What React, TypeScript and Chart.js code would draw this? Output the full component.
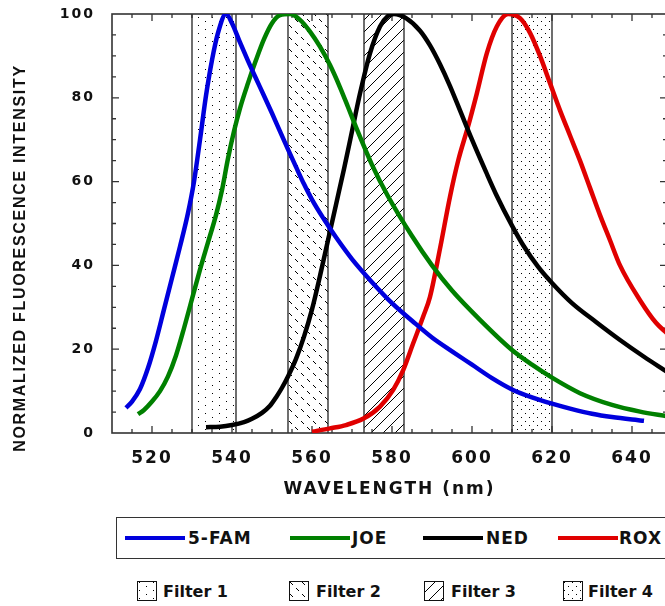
import React, { useEffect, useRef } from "react";
import { Chart, registerables } from "chart.js";
Chart.register(...registerables);

// ---------- data ----------
const FAM_NM = [513.5, 515, 517, 519, 521, 523, 525, 527, 529, 530.5, 532, 533.5, 535, 536.5, 538.5, 540, 542, 544, 546, 548, 550, 552, 554, 556, 558, 560, 563, 566, 570, 575, 580, 585, 590, 595, 600, 605, 610, 615, 620, 625, 630, 635, 640, 643];
const FAM_VAL = [6, 7.5, 10.5, 15.5, 22, 29.5, 37, 44.5, 52.5, 60, 70, 80.5, 89, 95.5, 100, 97.8, 93.2, 88.8, 84.6, 80.5, 76.3, 72, 67.7, 63.5, 59.4, 55.7, 51, 46.7, 41.5, 36, 31, 26.8, 22.8, 19.5, 16.3, 13.1, 10.4, 8.5, 7, 5.7, 4.6, 3.8, 3.2, 2.9];

const JOE_NM = [516.5, 518, 520, 522, 524, 526, 528, 530, 532, 534, 536, 537.5, 539, 540.5, 542, 544, 546, 548, 550, 552, 554.5, 557, 559.5, 562, 564.5, 567, 569, 571, 575, 579, 585, 590, 595, 602, 610, 615, 620, 627, 635, 642, 648.75];
const JOE_VAL = [4.5, 5.5, 7.5, 10, 13.5, 18.5, 25, 32, 39, 45.5, 52, 58, 65.5, 72, 77.5, 83.5, 89, 94, 97.8, 99.7, 100, 98.6, 95.8, 92.2, 87.8, 82.5, 77.8, 73, 64, 56.5, 47, 40, 34, 27, 19.8, 16.3, 13.2, 9.5, 6.7, 5.1, 4];

const NED_NM = [533.5, 537, 540, 543, 545, 547.5, 549.5, 551, 552.5, 554, 556, 558, 560, 562, 564, 566, 568, 570, 572, 574.5, 577, 579, 580.5, 583.5, 587, 589.5, 592, 594.5, 597, 600, 603.5, 606, 610, 613, 616.5, 620, 625, 631, 637, 643, 648.75];
const NED_VAL = [1.4, 1.5, 1.9, 2.6, 3.4, 4.8, 6.5, 8.5, 10.8, 13.5, 17.7, 23, 29.5, 37.5, 46, 54.5, 63, 72, 81, 90.6, 97, 99.5, 100, 99, 96, 92.5, 88, 82.8, 77, 70, 62.3, 57, 49.5, 44.5, 39.7, 35.8, 31, 26.5, 22.2, 18.2, 14.6];

const ROX_NM = [560, 564.5, 568.5, 573, 577, 580.3, 582.8, 585.3, 587.8, 589.5, 592, 594.5, 596.6, 599, 601.2, 603.7, 606.2, 609, 612, 614.5, 617, 619.5, 622, 624.5, 627, 629.5, 632, 634.5, 637, 642, 646, 648.75];
const ROX_VAL = [0.3, 1.1, 1.9, 3.5, 6.3, 10.3, 15, 21.4, 27.8, 32.5, 44, 56.4, 65.2, 73.1, 81, 90.6, 97, 100, 99, 95.5, 90, 83.5, 77, 71, 65, 58.5, 52, 46, 40, 31.7, 26.3, 23.8];

const SERIES_NAMES = ["5-FAM", "JOE", "NED", "ROX"];
const SERIES_COLORS = ["#0000dd", "#008000", "#000000", "#e00000"];

const FILTER_NAMES = ["Filter 1", "Filter 2", "Filter 3", "Filter 4"];
const FILTER_START = [530, 554, 573, 610];
const FILTER_END = [541, 564, 583, 620];
const FILTER_KINDS = ["dots", "dashes", "hatch", "dense"];

const X_TICKS = [520, 540, 560, 580, 600, 620, 640];
const Y_TICKS = [0, 20, 40, 60, 80, 100];
const X_MIN = 510;
const X_MAX = 648.75;
const X_MINOR_STEP = 5;
const Y_MINOR_STEP = 5;

const X_TITLE = "WAVELENGTH (nm)";
const Y_TITLE = "NORMALIZED FLUORESCENCE INTENSITY";

// ---------- patterns ----------
function makeTile(kind: string): HTMLCanvasElement {
  const c = document.createElement("canvas");
  if (kind === "dots") {
    c.width = 14; c.height = 8;
    const ctx = c.getContext("2d")!;
    ctx.fillStyle = "#000";
    ctx.fillRect(2, 1, 1, 1);
    ctx.fillRect(9, 5, 1, 1);
  } else if (kind === "dashes") {
    c.width = 12; c.height = 12;
    const ctx = c.getContext("2d")!;
    ctx.fillStyle = "#000";
    for (let i = 0; i < 3; i++) {
      ctx.fillRect(1 + i, 1 + i, 1, 1);
      ctx.fillRect(7 + i, 7 + i, 1, 1);
    }
  } else if (kind === "hatch") {
    c.width = 12; c.height = 12;
    const ctx = c.getContext("2d")!;
    ctx.fillStyle = "#000";
    for (let i = 0; i < 12; i++) ctx.fillRect(i, 11 - i, 1, 1);
  } else {
    c.width = 8; c.height = 8;
    const ctx = c.getContext("2d")!;
    ctx.fillStyle = "#000";
    ctx.fillRect(1, 1, 1, 1);
    ctx.fillRect(5, 5, 1, 1);
  }
  return c;
}

function mk(nm: number[], val: number[]) {
  return nm.map((x, i) => ({ x, y: val[i] }));
}

const framePlugin = {
  id: "frameAndFilters",
  beforeDraw(chart: any) {
    (chart.ctx as any).letterSpacing = "2px";
  },
  beforeDatasetsDraw(chart: any) {
    const { ctx, chartArea, scales } = chart;
    const { left, right, top, bottom } = chartArea;
    const xs = scales.x;
    const ys = scales.y;
    ctx.save();
    FILTER_START.forEach((s, i) => {
      const x1 = xs.getPixelForValue(s);
      const x2 = xs.getPixelForValue(FILTER_END[i]);
      const pat = ctx.createPattern(makeTile(FILTER_KINDS[i]), "repeat");
      ctx.fillStyle = pat;
      ctx.fillRect(x1, top, x2 - x1, bottom - top);
      ctx.strokeStyle = "#222";
      ctx.lineWidth = 1.3;
      ctx.beginPath();
      ctx.moveTo(x1, top); ctx.lineTo(x1, bottom);
      ctx.moveTo(x2, top); ctx.lineTo(x2, bottom);
      ctx.stroke();
    });
    ctx.strokeStyle = "#333";
    ctx.lineWidth = 1.6;
    ctx.strokeRect(left, top, right - left, bottom - top);
    ctx.lineWidth = 1.3;
    ctx.beginPath();
    for (let v = X_MIN + X_MINOR_STEP; v < X_MAX; v += X_MINOR_STEP) {
      const px = xs.getPixelForValue(v);
      const len = v % 20 === 0 ? 7 : 4;
      ctx.moveTo(px, bottom); ctx.lineTo(px, bottom - len);
      ctx.moveTo(px, top); ctx.lineTo(px, top + len);
    }
    for (let v = Y_MINOR_STEP; v < 100; v += Y_MINOR_STEP) {
      const py = ys.getPixelForValue(v);
      const len = v % 20 === 0 ? 7 : 4;
      ctx.moveTo(left, py); ctx.lineTo(left + len, py);
      ctx.moveTo(right, py); ctx.lineTo(right - len, py);
    }
    ctx.stroke();
    ctx.restore();
  },
  afterDraw(chart: any) {
    const { ctx, chartArea } = chart;
    ctx.save();
    ctx.fillStyle = "#111";
    ctx.textAlign = "center";
    ctx.textBaseline = "middle";
    ctx.translate(21, chartArea.top + 244);
    ctx.rotate(-Math.PI / 2);
    ctx.font = 'bold 16px "Liberation Sans"';
    (ctx as any).letterSpacing = "1.7px";
    ctx.fillText(Y_TITLE, 0, 0);
    ctx.restore();
    (ctx as any).letterSpacing = "0px";
  },
};

function FilterIcon({ kind, left }: { kind: string; left: number }) {
  const ref = useRef<HTMLCanvasElement>(null);
  useEffect(() => {
    const c = ref.current!;
    const ctx = c.getContext("2d")!;
    ctx.clearRect(0, 0, 20, 20);
    ctx.fillStyle = "#fff";
    ctx.fillRect(0, 0, 20, 20);
    ctx.fillStyle = ctx.createPattern(makeTile(kind), "repeat")!;
    ctx.fillRect(1, 1, 18, 18);
    ctx.strokeStyle = "#111";
    ctx.lineWidth = 1;
    ctx.strokeRect(0.5, 0.5, 19, 19);
  }, [kind]);
  return <canvas ref={ref} width={20} height={20} style={{ position: "absolute", left, top: 581 }} />;
}

const LEG_LINE_X = [125, 290, 423, 558];
const LEG_TEXT_X = [188, 352, 486, 619];
const FILT_ICON_X = [137, 289, 424, 563];
const FILT_TEXT_X = [163, 316, 451, 588];

export default function App() {
  const canvasRef = useRef<HTMLCanvasElement>(null);
  useEffect(() => {
    const series = [mk(FAM_NM, FAM_VAL), mk(JOE_NM, JOE_VAL), mk(NED_NM, NED_VAL), mk(ROX_NM, ROX_VAL)];
    const chart = new Chart(canvasRef.current!, {
      type: "line",
      data: {
        datasets: series.map((d, i) => ({
          label: SERIES_NAMES[i],
          data: d,
          borderColor: SERIES_COLORS[i],
          backgroundColor: SERIES_COLORS[i],
          borderWidth: 4.5,
          pointRadius: 0,
          fill: false,
          cubicInterpolationMode: "monotone" as const,
          borderJoinStyle: "round" as const,
        })),
      },
      options: {
        animation: false,
        responsive: false,
        devicePixelRatio: 1,
        layout: { padding: { top: 14, right: 13, bottom: 0, left: 0 } },
        plugins: { legend: { display: false }, tooltip: { enabled: false } },
        scales: {
          x: {
            type: "linear",
            min: X_MIN,
            max: X_MAX,
            grid: { display: false, drawTicks: false },
            border: { display: false },
            afterBuildTicks: (s: any) => { s.ticks = X_TICKS.map((v) => ({ value: v })); },
            afterFit: (s: any) => { s.height = 77; s.paddingLeft = 0; s.paddingRight = 0; },
            title: {
              display: true,
              text: X_TITLE,
              color: "#111",
              font: { family: '"DejaVu Sans"', size: 17, weight: "bold" },
              padding: { top: 0, bottom: 10 },
            },
            ticks: {
              padding: 15,
              color: "#111",
              maxRotation: 0,
              autoSkip: false,
              font: { family: '"DejaVu Sans"', size: 17, weight: "bold" },
            },
          },
          y: {
            min: 0,
            max: 100,
            grid: { display: false, drawTicks: false },
            border: { display: false },
            afterBuildTicks: (s: any) => { s.ticks = Y_TICKS.map((v) => ({ value: v })); },
            afterFit: (s: any) => { s.width = 112; s.paddingTop = 0; s.paddingBottom = 0; },
            ticks: {
              padding: 17,
              color: "#111",
              font: { family: '"DejaVu Sans"', size: 14, weight: "bold" },
            },
          },
        },
      },
      plugins: [framePlugin],
    });
    return () => chart.destroy();
  }, []);

  const textCommon: React.CSSProperties = {
    position: "absolute",
    fontFamily: '"DejaVu Sans", sans-serif',
    fontWeight: "bold",
    color: "#111",
    whiteSpace: "nowrap",
    height: 20,
    lineHeight: "20px",
  };

  return (
    <div style={{ position: "fixed", left: 0, top: 0, width: 665, height: 606, overflow: "hidden", background: "#fff" }}>
      <canvas ref={canvasRef} width={680} height={510} style={{ position: "absolute", left: 0, top: 0, width: 680, height: 510 }} />
      <div style={{ position: "absolute", left: 116, top: 517, width: 580, height: 42, border: "1.5px solid #333", boxSizing: "border-box" }} />
      {SERIES_NAMES.map((n, i) => (
        <React.Fragment key={n}>
          <div style={{ position: "absolute", left: LEG_LINE_X[i], top: 536, width: 60, height: 4, background: SERIES_COLORS[i] }} />
          <div style={{ ...textCommon, left: LEG_TEXT_X[i], top: 528, fontSize: 17, letterSpacing: 1 }}>{n}</div>
        </React.Fragment>
      ))}
      {FILTER_NAMES.map((n, i) => (
        <React.Fragment key={n}>
          <FilterIcon kind={FILTER_KINDS[i]} left={FILT_ICON_X[i]} />
          <div style={{ ...textCommon, left: FILT_TEXT_X[i], top: 582, fontSize: 16 }}>{n}</div>
        </React.Fragment>
      ))}
    </div>
  );
}
